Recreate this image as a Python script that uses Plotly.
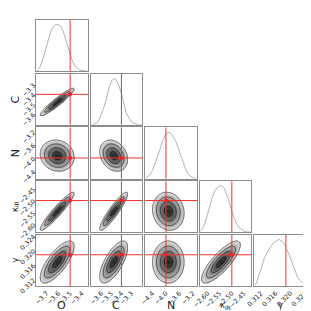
import numpy as np
import plotly.graph_objects as go
from plotly.subplots import make_subplots

# ---------------- data ----------------
param_names = ["O", "C", "N", "κ<sub>IR</sub>", "γ"]
truths = [-3.5, -3.4, -4.0, -2.5, 0.3188]
axis_ranges = [[-3.79, -3.35], [-3.71, -3.19], [-4.62, -3.08], [-2.633, -2.419], [0.3102, 0.32425]]
tick_values = [
    [-3.7, -3.6, -3.5, -3.4],
    [-3.6, -3.5, -3.4, -3.3],
    [-4.4, -4.0, -3.6, -3.2],
    [-2.60, -2.55, -2.50, -2.45],
    [0.312, 0.316, 0.320, 0.324],
]
tick_formats = [".1f", ".1f", ".1f", ".2f", ".3f"]

# 1-D marginal histograms (bin centres, heights)
o_bins = [-3.78, -3.76, -3.74, -3.72, -3.70, -3.68, -3.66, -3.64, -3.62, -3.60, -3.58,
          -3.56, -3.54, -3.52, -3.50, -3.48, -3.46, -3.44, -3.42, -3.40, -3.38, -3.36]
o_hist = [0, 3, 9, 17, 25, 34, 42, 46, 47.5, 47.5, 46, 41, 33, 27, 19, 10, 5, 2.5, 1, 0.5, 0, 0]

c_bins = [-3.700, -3.675, -3.650, -3.625, -3.600, -3.575, -3.550, -3.525, -3.500, -3.475, -3.450,
          -3.425, -3.400, -3.375, -3.350, -3.325, -3.300, -3.275, -3.250, -3.225, -3.200]
c_hist = [0, 0.5, 1.5, 5, 11, 18, 27, 38, 45, 47.7, 46, 40, 32, 21, 12, 7, 3.5, 1.5, 0.5, 0, 0]

n_bins = [-4.6, -4.5, -4.4, -4.3, -4.2, -4.1, -4.0, -3.9, -3.8, -3.7, -3.6, -3.5, -3.4, -3.3, -3.2, -3.1]
n_hist = [0.5, 3, 8, 17, 27, 38, 45, 46.7, 43, 37, 28, 18, 8, 3, 1, 0]

k_bins = [-2.63, -2.62, -2.61, -2.60, -2.59, -2.58, -2.57, -2.56, -2.55, -2.54, -2.53,
          -2.52, -2.51, -2.50, -2.49, -2.48, -2.47, -2.46, -2.45, -2.44, -2.43, -2.42]
k_hist = [1, 4, 10, 19, 27, 36, 42, 45.5, 47, 47, 44, 38, 30, 21, 14, 8, 4.5, 2.5, 1.2, 0.5, 0, 0]

g_bins = [0.3105, 0.3110, 0.3115, 0.3120, 0.3125, 0.3130, 0.3135, 0.3140, 0.3145, 0.3150,
          0.3155, 0.3160, 0.3165, 0.3170, 0.3175, 0.3180, 0.3185, 0.3190, 0.3195, 0.3200,
          0.3205, 0.3210, 0.3215, 0.3220, 0.3225, 0.3230, 0.3235, 0.3240]
g_hist = [1, 5, 11, 18, 24, 29, 33, 36.5, 39.5, 42, 44.5, 46, 47, 47.5, 46.5, 45, 42, 38, 34,
          29, 23.5, 18, 13, 9, 6, 4, 2, 1]

hist_bins = [o_bins, c_bins, n_bins, k_bins, g_bins]
hist_vals = [o_hist, c_hist, n_hist, k_hist, g_hist]

# 2-D posterior shape
post_means = [-3.61, -3.478, -3.93, -2.545, 0.3168]
post_sigmas = [0.072, 0.070, 0.235, 0.040, 0.0029]
pair_corr = {
    (1, 0): 0.94,
    (2, 0): -0.10, (2, 1): -0.25,
    (3, 0): 0.94, (3, 1): 0.915, (3, 2): -0.10,
    (4, 0): 0.74, (4, 1): 0.69, (4, 2): 0.0, (4, 3): 0.81,
}

# ---------------- figure ----------------
N = 5
fig = make_subplots(rows=N, cols=N, horizontal_spacing=0.0102, vertical_spacing=0.0102)

grey_scale = [[0.0, "#1e1e1e"], [0.2, "#474747"], [0.4, "#7c7c7c"], [0.6, "#b0b0b0"],
              [0.799, "#dedede"], [0.8, "#ffffff"], [1.0, "#ffffff"]]

shapes = []
tick_font = dict(family="DejaVu Sans", size=6.5, color="#222222")
red = "#f03030"


def ax_name(kind, k):
    return kind if k == 1 else f"{kind}{k}"


for i in range(N):
    for j in range(N):
        k = i * N + j + 1
        xa = "xaxis" if k == 1 else f"xaxis{k}"
        ya = "yaxis" if k == 1 else f"yaxis{k}"
        if j > i:
            fig.layout[xa].update(visible=False)
            fig.layout[ya].update(visible=False)
            continue
        common = dict(showline=True, mirror=True, linecolor="#8c8c8c", linewidth=1,
                      showgrid=False, zeroline=False, ticks="", tickfont=tick_font)
        fig.layout[xa].update(range=axis_ranges[j], tickvals=tick_values[j],
                              tickformat=tick_formats[j], tickangle=-45,
                              showticklabels=(i == N - 1), **common)
        if i == j:
            hmax = max(hist_vals[i])
            fig.add_trace(go.Scatter(x=hist_bins[i], y=hist_vals[i], mode="lines",
                                     line=dict(color="#a0a0a0", width=0.8),
                                     hoverinfo="skip", showlegend=False), row=i + 1, col=j + 1)
            fig.layout[ya].update(range=[0, 1.1 * hmax], showticklabels=False, **common)
            shapes.append(dict(type="line", xref=ax_name("x", k), yref=ax_name("y", k) + " domain",
                               x0=truths[j], x1=truths[j], y0=0, y1=1,
                               line=dict(color=red, width=1)))
        else:
            fig.layout[ya].update(range=axis_ranges[i], tickvals=tick_values[i],
                                  tickformat=tick_formats[i], tickangle=-45,
                                  showticklabels=(j == 0), **common)
            gx = np.linspace(axis_ranges[j][0], axis_ranges[j][1], 110)
            gy = np.linspace(axis_ranges[i][0], axis_ranges[i][1], 110)
            X, Y = np.meshgrid(gx, gy)
            rho = pair_corr[(i, j)]
            dx = (X - post_means[j]) / post_sigmas[j]
            dy = (Y - post_means[i]) / post_sigmas[i]
            r = np.sqrt((dx ** 2 - 2 * rho * dx * dy + dy ** 2) / (1 - rho ** 2))
            fig.add_trace(go.Contour(x=gx, y=gy, z=r, zmin=0, zmax=2.5, colorscale=grey_scale,
                                     showscale=False, hoverinfo="skip",
                                     contours=dict(start=0.5, end=2.0, size=0.5,
                                                   coloring="heatmap", showlines=True),
                                     line=dict(color="black", width=0.6)),
                          row=i + 1, col=j + 1)
            shapes.append(dict(type="line", xref=ax_name("x", k), yref=ax_name("y", k) + " domain",
                               x0=truths[j], x1=truths[j], y0=0, y1=1,
                               line=dict(color=red, width=1)))
            shapes.append(dict(type="line", yref=ax_name("y", k), xref=ax_name("x", k) + " domain",
                               y0=truths[i], y1=truths[i], x0=0, x1=1,
                               line=dict(color=red, width=1)))
            fig.add_trace(go.Scatter(x=[truths[j]], y=[truths[i]], mode="markers",
                                     marker=dict(color="#f01010", size=4),
                                     hoverinfo="skip", showlegend=False), row=i + 1, col=j + 1)

# axis titles
L, R, T, B = 27, 10, 10, 27
W = H = 311
pw = W - L - R
ph = H - T - B
annotations = []
for j in range(N):
    xd = fig.layout[f"xaxis{(N - 1) * N + j + 1}"].domain
    cx = (xd[0] + xd[1]) / 2
    big = j < 3
    annotations.append(dict(text=param_names[j], xref="paper", yref="paper", x=cx,
                            y=-(304 - (H - B)) / ph, showarrow=False, xanchor="center",
                            yanchor="middle",
                            font=dict(family="DejaVu Sans", size=11 if big else 8.5, color="#222")))
for i in range(1, N):
    yd = fig.layout[f"yaxis{i * N + 1}"].domain
    cy = (yd[0] + yd[1]) / 2
    big = i < 3
    annotations.append(dict(text=param_names[i], xref="paper", yref="paper", x=-(L - 6) / pw,
                            y=cy, showarrow=False, xanchor="center", yanchor="middle",
                            textangle=-90,
                            font=dict(family="DejaVu Sans", size=11 if big else 8.5, color="#222")))

fig.update_layout(width=W, height=H, autosize=False,
                  margin=dict(l=L, r=R, t=T, b=B, pad=0),
                  paper_bgcolor="white", plot_bgcolor="white",
                  showlegend=False, shapes=shapes, annotations=annotations)

fig.write_html("out.html")
